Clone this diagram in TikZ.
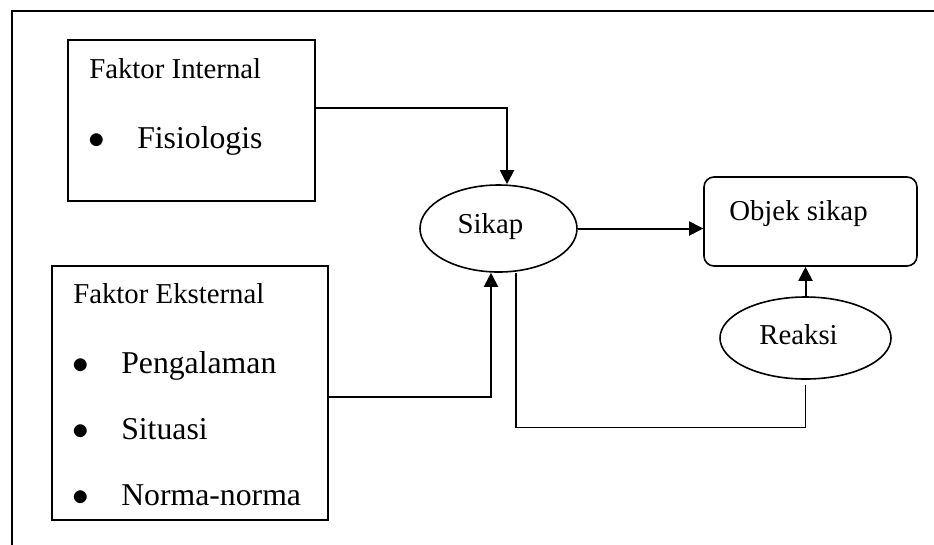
\documentclass[tikz,border=0pt]{standalone}
\usepackage{fontspec}
\setmainfont{Liberation Serif}
\usetikzlibrary{arrows.meta, positioning, calc, shapes.geometric}
\tikzset{
  frameline/.style={line width=2pt, line cap=rect},
  factor/.style={rectangle, draw, line width=1pt, inner sep=0pt},
  objbox/.style={rectangle, rounded corners=7.5pt, draw, line width=1.2pt, inner sep=0pt},
  bubble/.style={ellipse, draw, line width=1.2pt, inner sep=0pt},
  heading/.style={font=\fontsize{21.6}{26}\selectfont, inner sep=0pt, anchor=base west},
  entry/.style={font=\fontsize{23.8}{28}\selectfont, inner sep=0pt, anchor=base west},
  flow/.style={-{Triangle[length=10.5pt, width=10.5pt]}, line width=1.5pt},
  backlink/.style={line width=1pt},
}
\def\px{0.75pt}

\begin{document}
\begin{tikzpicture}[x=0.75pt, y=-0.75pt]
\useasboundingbox (0,0) rectangle (934,544);

% Outer frame (only left and top edges fall inside)
\draw[frameline] (12,544) -- (12,11) -- (934,11);

% Factors
\node[factor, minimum width=247*\px, minimum height=161*\px] (internal) at (191.5,120.5) {};
\node[heading] (inttitle) at (89,78) {Faktor Internal};
\node[entry] (intbul) at (88,148) {$\bullet$};
\node[entry] (fisio) at (137,148) {Fisiologis};

\node[factor, minimum width=276*\px, minimum height=254*\px] (eksternal) at (190,393) {};
\node[heading] (exttitle) at (73,303) {Faktor Eksternal};
\foreach \n/\y/\t in {peng/373/Pengalaman, situ/439/Situasi, norma/505/Norma-norma} {
  \node[entry] (\n bul) at (72,\y) {$\bullet$};
  \node[entry] (\n) at (121,\y) {\t};
}

% Attitude, object and reaction
\node[bubble, minimum width=157*\px, minimum height=87*\px] (sikap) at (498.5,228.5) {};
\node[heading, anchor=base] (sikaptext) at (490.5,233) {Sikap};
\node[objbox, minimum width=213*\px, minimum height=89*\px] (objek) at (810.5,221.5) {};
\node[heading] (objektext) at (729,220) {Objek sikap};
\node[bubble, minimum width=171*\px, minimum height=82*\px] (reaksi) at (805.5,338) {};
\node[heading, anchor=base] (reaksitext) at (798.5,344) {Reaksi};

% Flow
\draw[flow] ([yshift=12.5*\px]internal.east) -| ([xshift=8.5*\px]sikap.north);
\draw[flow] ([yshift=-4*\px]eksternal.east) -| ([xshift=-7.5*\px]sikap.south);
\draw[flow] (sikap.east) -- (sikap.east -| objek.west);
\draw[flow] (reaksi.north) -- (reaksi.north |- objek.south);
\draw[backlink] ([xshift=17.5*\px]sikap.south) |- ([yshift=-48*\px]reaksi.south)
  -- ([yshift=-5*\px]reaksi.south);

\end{tikzpicture}
\end{document}
